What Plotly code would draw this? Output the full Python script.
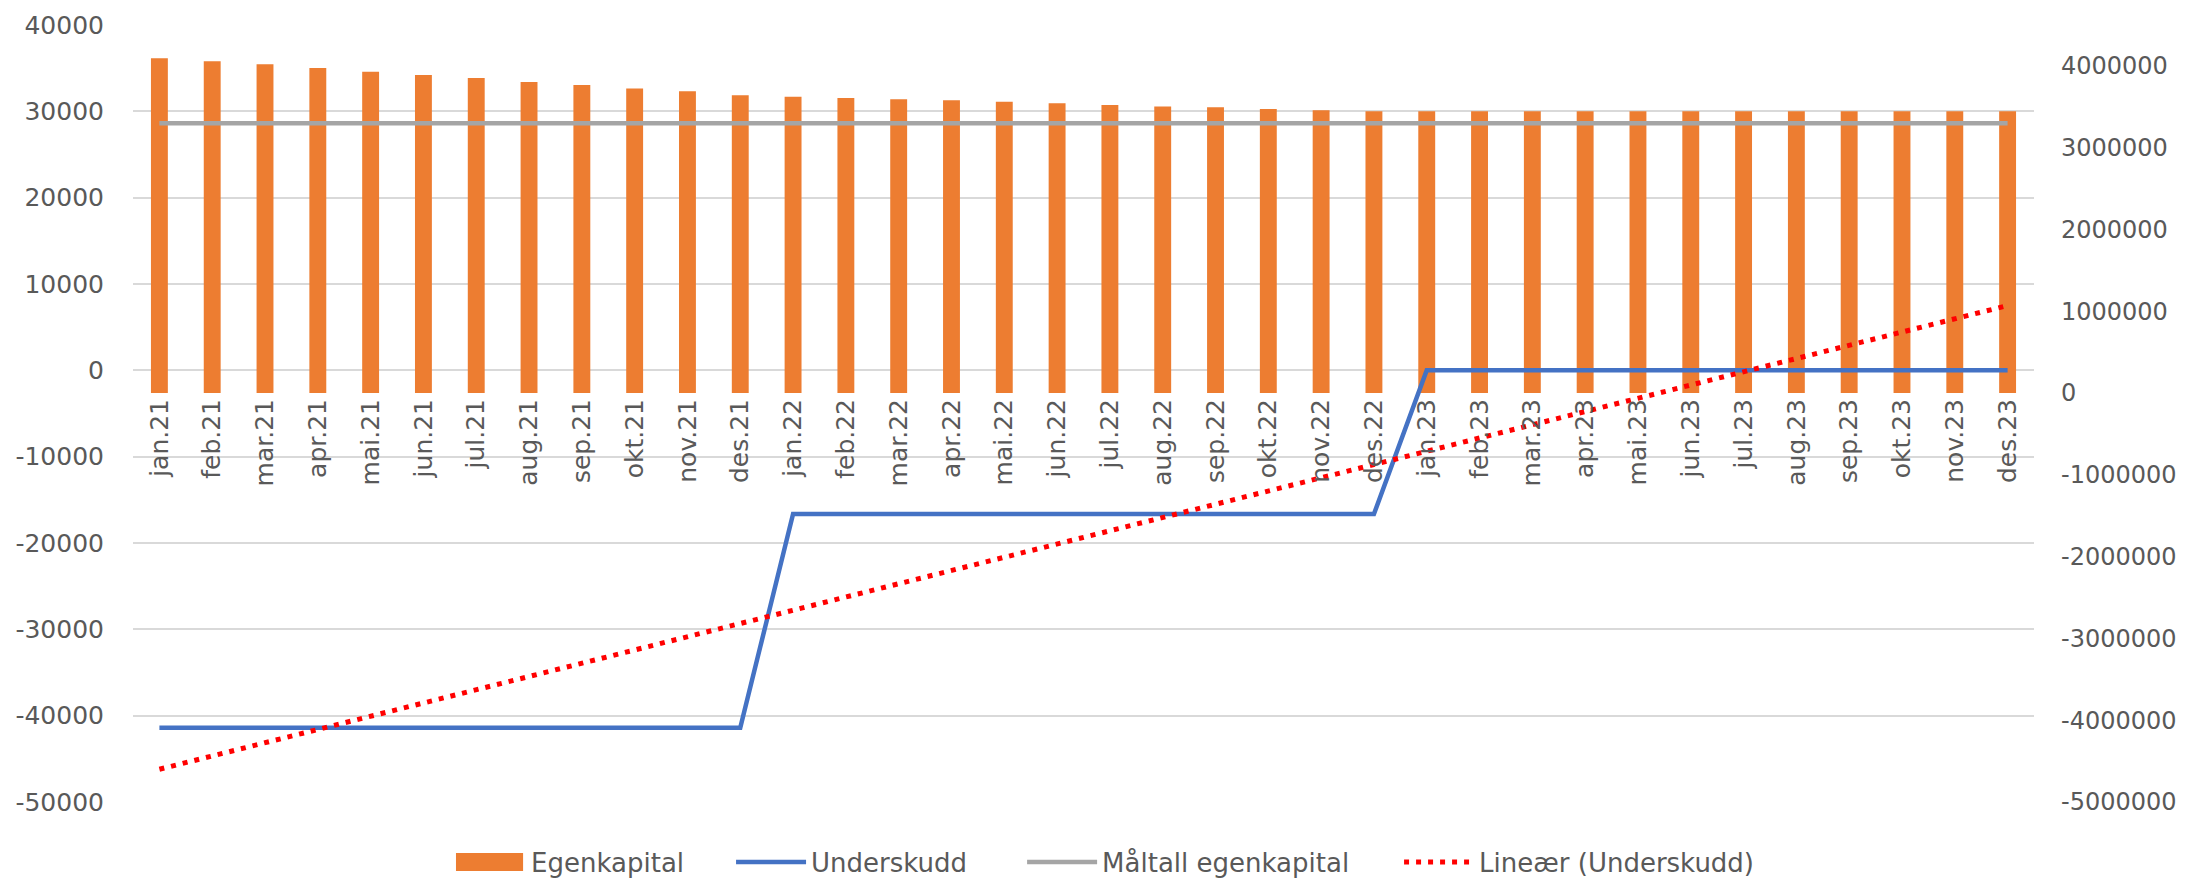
import numpy as np
import plotly.graph_objects as go

months = ["jan", "feb", "mar", "apr", "mai", "jun", "jul", "aug", "sep", "okt", "nov", "des"]
categories = [f"{m}.{y}" for y in ("21", "22", "23") for m in months]

egenkapital = [4092000, 4056000, 4019000, 3974000, 3928000, 3888000,
               3851000, 3802000, 3765000, 3725000, 3689000, 3640000,
               3623000, 3607000, 3591000, 3579000, 3562000, 3542000,
               3522000, 3505000, 3493000, 3473000, 3457000, 3445000,
               3445000, 3445000, 3445000, 3445000, 3445000, 3445000,
               3445000, 3445000, 3445000, 3445000, 3445000, 3445000]

underskudd = [-41400] * 12 + [-16650] * 12 + [0] * 12

maltall_egenkapital = [3300000] * 36

left_ticks = [40000, 30000, 20000, 10000, 0, -10000, -20000, -30000, -40000, -50000]
left_ticktext = ["40000", "30000", "20000", "10000", "0", "-10000", "-20000", "-30000", "-40000", "-50000"]
right_ticks = [4000000, 3000000, 2000000, 1000000, 0, -1000000, -2000000, -3000000, -4000000, -5000000]
right_ticktext = ["4000000", "3000000", "2000000", "1000000", "0", "-1000000", "-2000000", "-3000000", "-4000000", "-5000000"]

# Linear trendline of Underskudd (as the spreadsheet's "Lineær" trendline)
idx = np.arange(len(underskudd))
slope, intercept = np.polyfit(idx, underskudd, 1)
trend = slope * idx + intercept

FONT = "DejaVu Sans"
TXT = "#595959"
ORANGE, BLUE, GRAY, RED = "#ED7D31", "#4472C4", "#A5A5A5", "#FF0000"

fig = go.Figure()
fig.add_trace(go.Bar(x=categories, y=egenkapital, name="Egenkapital",
                     marker=dict(color=ORANGE, line=dict(width=0)),
                     width=0.32, yaxis="y", showlegend=False))
# legend-only entry; its key is drawn as a paper-anchored orange block below
fig.add_trace(go.Scatter(x=[None], y=[None], name="Egenkapital", mode="lines",
                         line=dict(color="rgba(237,125,49,0)", width=4), yaxis="y", legend="legend"))
fig.add_trace(go.Scatter(x=categories, y=underskudd, name="Underskudd", mode="lines",
                         line=dict(color=BLUE, width=4.5), yaxis="y2", legend="legend2"))
fig.add_trace(go.Scatter(x=categories, y=maltall_egenkapital, name="Måltall egenkapital", mode="lines",
                         line=dict(color=GRAY, width=4.5), yaxis="y", legend="legend3"))
fig.add_trace(go.Scatter(x=categories, y=trend, name="Lineær (Underskudd)", mode="lines",
                         line=dict(color=RED, width=5, dash="5px,7px"), yaxis="y2", legend="legend4"))

def leg(x):
    return dict(orientation="h", x=x, xanchor="left", y=-0.0772, yanchor="middle",
                font=dict(size=26, color=TXT), itemwidth=70, bgcolor="rgba(0,0,0,0)")

fig.update_layout(
    width=2185, height=870,
    margin=dict(l=125, r=159, t=17, b=76, autoexpand=False),
    paper_bgcolor="white", plot_bgcolor="white",
    font=dict(family=FONT, size=25, color=TXT),
    showlegend=True,
    legend=leg(0.1673), legend2=leg(0.3146), legend3=leg(0.4677), legend4=leg(0.6660),
    shapes=[dict(type="rect", xref="paper", yref="paper", x0=0.1699, x1=0.2052,
                 y0=-0.0888, y1=-0.0656, fillcolor=ORANGE, line=dict(width=0), layer="above")],
    xaxis=dict(type="category", range=[-0.5, 35.5], anchor="free", position=0.5264,
               tickangle=-90, ticks="", showgrid=False, zeroline=False, showline=False,
               automargin=False, tickfont=dict(size=25, color=TXT)),
    yaxis=dict(side="right", range=[-5000000, 4500000], tickvals=right_ticks, ticktext=right_ticktext,
               showgrid=False, zeroline=False, showline=False, ticks="", automargin=False,
               ticklabelstandoff=26, tickfont=dict(size=24, color=TXT)),
    yaxis2=dict(side="left", overlaying="y", range=[-50000, 40000], tickvals=left_ticks,
                ticktext=left_ticktext, showgrid=True, gridcolor="#D9D9D9", gridwidth=1.5,
                zeroline=False, showline=False, ticks="", automargin=False, ticklabelstandoff=28,
                tickfont=dict(size=25, color=TXT)),
)

fig.write_html("out.html")
